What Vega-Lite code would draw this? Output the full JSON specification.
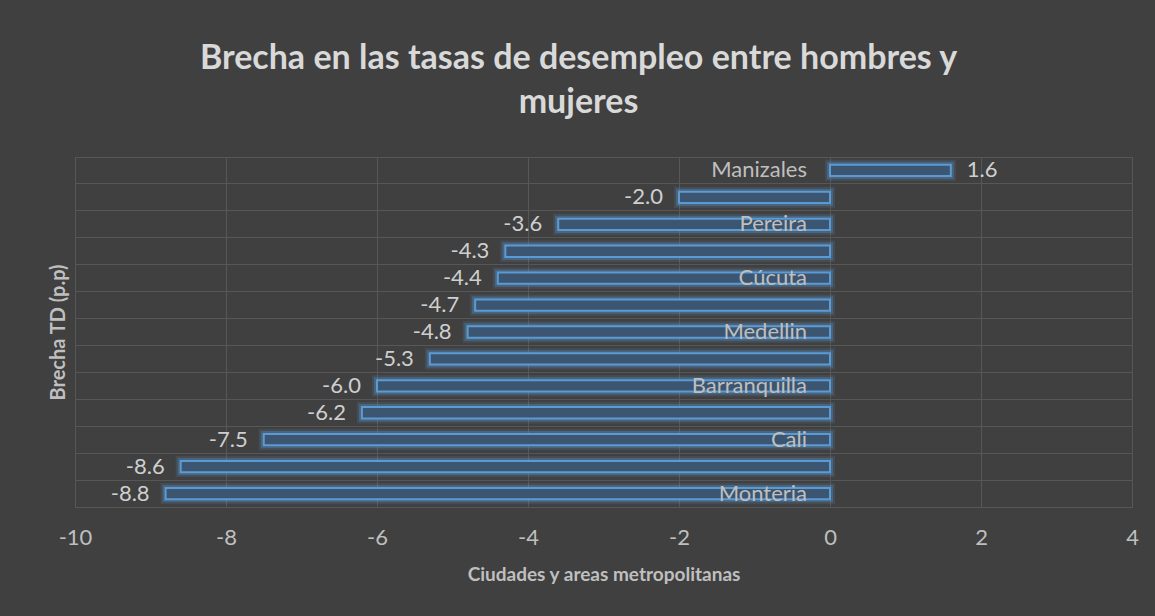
{
  "$schema": "https://vega.github.io/schema/vega-lite/v6.json",
  "width": 1057,
  "height": 350,
  "autosize": {"type": "none"},
  "padding": {"left": 75, "top": 157, "right": 23, "bottom": 109},
  "background": "#404040",
  "title": {
    "text": ["Brecha en las tasas de desempleo entre hombres y", "mujeres"],
    "font": "Lato",
    "fontSize": 34,
    "fontWeight": "bold",
    "color": "#d9d9d9",
    "anchor": "middle",
    "dx": -25,
    "offset": 37,
    "lineHeight": 44
  },
  "config": {
    "view": {"stroke": "#575757", "strokeWidth": 1},
    "font": "Lato",
    "locale": {
      "number": {"decimal": ".", "thousands": ",", "grouping": [3], "currency": ["$", ""], "minus": "-"}
    }
  },
  "data": {
    "values": [
      {"ciudad": "Manizales", "etiqueta": "Manizales", "brecha": 1.6},
      {"ciudad": "Bucaramanga", "etiqueta": "", "brecha": -2.0},
      {"ciudad": "Pereira", "etiqueta": "Pereira", "brecha": -3.6},
      {"ciudad": "Pasto", "etiqueta": "", "brecha": -4.3},
      {"ciudad": "Cúcuta", "etiqueta": "Cúcuta", "brecha": -4.4},
      {"ciudad": "Bogotá", "etiqueta": "", "brecha": -4.7},
      {"ciudad": "Medellin", "etiqueta": "Medellin", "brecha": -4.8},
      {"ciudad": "Ibagué", "etiqueta": "", "brecha": -5.3},
      {"ciudad": "Barranquilla", "etiqueta": "Barranquilla", "brecha": -6.0},
      {"ciudad": "Villavicencio", "etiqueta": "", "brecha": -6.2},
      {"ciudad": "Cali", "etiqueta": "Cali", "brecha": -7.5},
      {"ciudad": "Cartagena", "etiqueta": "", "brecha": -8.6},
      {"ciudad": "Monteria", "etiqueta": "Monteria", "brecha": -8.8}
    ]
  },
  "encoding": {
    "y": {
      "field": "ciudad",
      "type": "nominal",
      "sort": null,
      "scale": {"paddingInner": 0, "paddingOuter": 0},
      "axis": {
        "title": "Brecha TD (p.p)",
        "labels": false,
        "ticks": false,
        "domain": false,
        "grid": true,
        "gridColor": "#575757",
        "bandPosition": 0,
        "titleFont": "Lato",
        "titleFontSize": 20,
        "titleFontWeight": "bold",
        "titleColor": "#bfbfbf",
        "titlePadding": 7
      }
    },
    "x": {
      "field": "brecha",
      "type": "quantitative",
      "scale": {"domain": [-10, 4], "nice": false},
      "axis": {
        "values": [-10, -8, -6, -4, -2, 0, 2, 4],
        "title": "Ciudades y areas metropolitanas",
        "grid": true,
        "gridColor": "#575757",
        "domain": false,
        "ticks": false,
        "labelFlush": false,
        "labelFont": "Lato",
        "labelFontSize": 22,
        "labelColor": "#bfbfbf",
        "labelPadding": 20,
        "titleFont": "Lato",
        "titleFontSize": 19,
        "titleFontWeight": "bold",
        "titleColor": "#bfbfbf",
        "titlePadding": 17
      }
    }
  },
  "layer": [
    {
      "mark": {"type": "bar", "height": {"band": 0.42}, "fillOpacity": 0, "stroke": "#5b9bd5", "strokeWidth": 10, "strokeOpacity": 0.15}
    },
    {
      "mark": {"type": "bar", "height": {"band": 0.42}, "fillOpacity": 0, "stroke": "#5b9bd5", "strokeWidth": 6, "strokeOpacity": 0.3}
    },
    {
      "mark": {"type": "bar", "height": {"band": 0.42}, "fill": "#3c5570", "stroke": "#5b9bd5", "strokeWidth": 2}
    },
    {
      "transform": [{"filter": "datum.brecha < 0"}],
      "mark": {"type": "text", "align": "right", "baseline": "middle", "dx": -16, "fontSize": 22, "font": "Lato", "color": "#cfcfcf"},
      "encoding": {"text": {"field": "brecha", "type": "quantitative", "format": ".1f"}}
    },
    {
      "transform": [{"filter": "datum.brecha >= 0"}],
      "mark": {"type": "text", "align": "left", "baseline": "middle", "dx": 16, "fontSize": 22, "font": "Lato", "color": "#cfcfcf"},
      "encoding": {"text": {"field": "brecha", "type": "quantitative", "format": ".1f"}}
    },
    {
      "mark": {"type": "text", "align": "right", "baseline": "middle", "dx": -23, "fontSize": 22, "font": "Lato", "color": "#bfbfbf"},
      "encoding": {
        "x": {"datum": 0},
        "text": {"field": "etiqueta", "type": "nominal"}
      }
    }
  ]
}
